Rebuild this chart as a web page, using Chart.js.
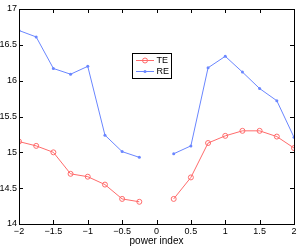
<!DOCTYPE html>
<html lang="en">
<head>
    <meta charset="UTF-8">
    <title>TE / RE vs power index</title>
    <style>
        html, body { margin: 0; padding: 0; background: #fff; }
        #wrap { width: 300px; height: 248px; }
    </style>
</head>
<body>
    <div id="wrap">
        <canvas id="myChart" width="300" height="248"></canvas>
    </div>

    <script src="https://cdn.jsdelivr.net/npm/chart.js"></script>

    <script>
        // data (null at 0 = gap in the lines)
        const powerIndex = [-2, -1.75, -1.5, -1.25, -1, -0.75, -0.5, -0.25, 0, 0.25, 0.5, 0.75, 1, 1.25, 1.5, 1.75, 2];
        const teValues = [15.15, 15.09, 15.0, 14.70, 14.66, 14.55, 14.35, 14.31, null, 14.35, 14.65, 15.13, 15.23, 15.30, 15.30, 15.22, 15.06];
        const reValues = [16.70, 16.61, 16.17, 16.09, 16.20, 15.24, 15.01, 14.93, null, 14.98, 15.09, 16.18, 16.34, 16.12, 15.89, 15.72, 15.21];
        const xTicks = [-2, -1.5, -1, -0.5, 0, 0.5, 1, 1.5, 2];
        const yTicks = [14, 14.5, 15, 15.5, 16, 16.5, 17];

        const teColor = '#ff6b6b';
        const reColor = '#6a86ff';
        const fontName = '"Liberation Sans", Arial, sans-serif';

        function toPoints(vals) {
            return powerIndex.map((x, i) => ({ x: x, y: vals[i] }));
        }

        // frame + inward ticks on all four sides, like matlab
        const boxPlugin = {
            id: 'box',
            afterDraw(chart) {
                const c = chart.ctx;
                const a = chart.chartArea;
                const sx = chart.scales.x;
                const sy = chart.scales.y;
                const tl = 4;
                c.save();
                c.strokeStyle = '#000';
                c.lineWidth = 1;
                c.beginPath();
                xTicks.forEach(v => {
                    const px = Math.round(sx.getPixelForValue(v)) + 0.5;
                    c.moveTo(px, a.bottom); c.lineTo(px, a.bottom - tl);
                    c.moveTo(px, a.top); c.lineTo(px, a.top + tl);
                });
                yTicks.forEach(v => {
                    const py = Math.round(sy.getPixelForValue(v)) + 0.5;
                    c.moveTo(a.left, py); c.lineTo(a.left + tl, py);
                    c.moveTo(a.right, py); c.lineTo(a.right - tl, py);
                });
                c.stroke();
                c.strokeRect(Math.round(a.left) + 0.5, Math.round(a.top) + 0.5,
                    Math.round(a.right - a.left), Math.round(a.bottom - a.top));

                // legend box
                const lx = 132.5, ly = 53.5, lw = 39, lh = 25;
                c.fillStyle = '#fff';
                c.fillRect(lx, ly, lw, lh);
                c.strokeStyle = '#000';
                c.strokeRect(lx, ly, lw, lh);
                chart.data.datasets.forEach((ds, i) => {
                    const y = ly + 7 + i * 11;
                    c.strokeStyle = ds.borderColor;
                    c.beginPath();
                    c.moveTo(lx + 3.5, y); c.lineTo(lx + 21.5, y);
                    c.stroke();
                    c.beginPath();
                    if (i === 0) {
                        c.arc(lx + 12.5, y, 2.5, 0, Math.PI * 2);
                        c.stroke();
                    } else {
                        c.fillStyle = ds.borderColor;
                        c.arc(lx + 12.5, y, 1.5, 0, Math.PI * 2);
                        c.fill();
                    }
                    c.fillStyle = '#000';
                    c.font = '9px ' + fontName;
                    c.textBaseline = 'middle';
                    c.textAlign = 'left';
                    c.fillText(ds.label, lx + 24, y + 0.5);
                });
                c.restore();
            }
        };

        const ctx = document.getElementById('myChart');

        let chart = new Chart(ctx, {
            type: 'line',
            data: {
                datasets: [{
                    label: 'TE',
                    data: toPoints(teValues),
                    borderColor: teColor,
                    borderWidth: 1,
                    pointStyle: 'circle',
                    pointRadius: 2.5,
                    pointBackgroundColor: 'rgba(0,0,0,0)',
                    pointBorderColor: teColor,
                    pointBorderWidth: 1,
                    spanGaps: false
                },
                {
                    label: 'RE',
                    data: toPoints(reValues),
                    borderColor: reColor,
                    borderWidth: 1,
                    pointStyle: 'circle',
                    pointRadius: 1.5,
                    pointBackgroundColor: reColor,
                    pointBorderColor: reColor,
                    pointBorderWidth: 0,
                    spanGaps: false
                }]
            },
            options: {
                responsive: false,
                animation: false,
                layout: { padding: { top: 9, right: 6, left: 0, bottom: 0 } },
                plugins: {
                    legend: { display: false },
                    tooltip: { enabled: false }
                },
                scales: {
                    x: {
                        type: 'linear',
                        min: -2,
                        max: 2,
                        afterBuildTicks: s => { s.ticks = xTicks.map(v => ({ value: v })); },
                        afterFit: s => { s.height = 24; },
                        grid: { display: false, drawTicks: false },
                        border: { display: false },
                        ticks: {
                            padding: 2,
                            maxRotation: 0,
                            color: '#000',
                            font: { family: fontName, size: 9 },
                            callback: v => String(v).replace('-', '\u2212')
                        },
                        title: {
                            display: true,
                            text: 'power index',
                            color: '#000',
                            font: { family: fontName, size: 10 },
                            padding: { top: 0, bottom: 1 }
                        }
                    },
                    y: {
                        min: 14,
                        max: 17,
                        afterBuildTicks: s => { s.ticks = yTicks.map(v => ({ value: v })); },
                        afterFit: s => { s.width = 19; },
                        grid: { display: false, drawTicks: false },
                        border: { display: false },
                        ticks: {
                            padding: 2,
                            color: '#000',
                            font: { family: fontName, size: 9 },
                            callback: v => String(v)
                        }
                    }
                }
            },
            plugins: [boxPlugin]
        });
    </script>
</body>
</html>
